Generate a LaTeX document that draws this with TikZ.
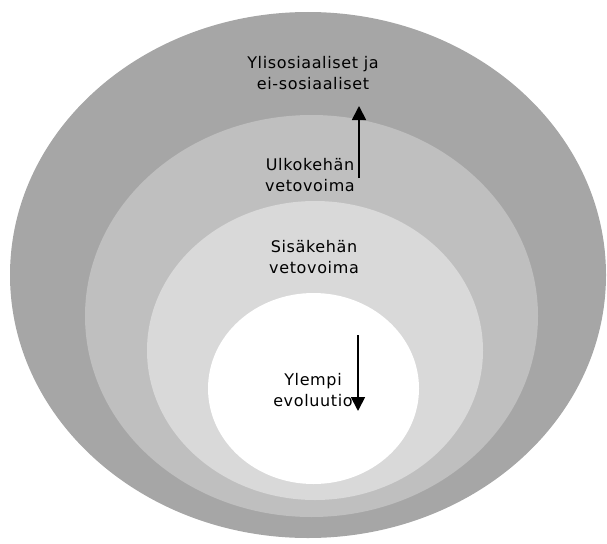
\documentclass[tikz,border=0pt]{standalone}
\usepackage{fontspec}
\setmainfont{DejaVu Sans}[LetterSpace=4]
\usetikzlibrary{shapes.geometric,arrows.meta}

\definecolor{ringOuter}{HTML}{A6A6A6}
\definecolor{ringMiddle}{HTML}{BFBFBF}
\definecolor{ringInner}{HTML}{D9D9D9}

\begin{document}
\begin{tikzpicture}[x=1pt,y=-1pt,
    ring/.style={ellipse, inner sep=0pt, draw=none},
    label/.style={align=center, font=\fontsize{16}{21}\selectfont},
    force/.style={line width=1.8pt, -{Triangle[width=14pt,length=14pt]}}]
  \useasboundingbox (0,0) rectangle (607,543);

  % Rings
  \node[ring, fill=ringOuter, minimum width=596pt, minimum height=526pt] (outer) at (308,275) {};
  \node[ring, fill=ringMiddle, minimum width=453pt, minimum height=402pt] (middle) at (311.5,316) {};
  \node[ring, fill=ringInner, minimum width=336pt, minimum height=299pt] (inner) at (315,350.5) {};
  \node[ring, fill=white, minimum width=211pt, minimum height=191pt] (core) at (313.5,388.5) {};

  % Labels
  \node[label] (beyond) at (313,73) {Ylisosiaaliset ja\\ei-sosiaaliset};
  \node[label] (outerPull) at (310,175) {Ulkokehän\\vetovoima};
  \node[label] (innerPull) at (314,257.5) {Sisäkehän\\vetovoima};
  \node[label] (higher) at (313,390) {Ylempi\\evoluutio};

  % Arrows
  \coordinate (upFrom) at (359,178);
  \coordinate (upTo) at (359,106);
  \coordinate (downFrom) at (358,335);
  \coordinate (downTo) at (358,411);
  \draw[force] (upFrom) -- (upTo);
  \draw[force] (downFrom) -- (downTo);
\end{tikzpicture}
\end{document}
